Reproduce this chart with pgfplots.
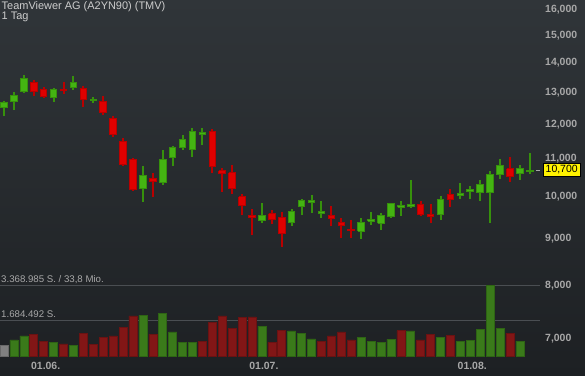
\documentclass[border=0pt]{standalone}
\usepackage{pgfplots}
\pgfplotsset{compat=1.18}
\usepackage{pgfplotstable}
\usepackage{fontspec}
\setmainfont{Liberation Sans}
\definecolor{bgtop}{RGB}{48,53,57}
\definecolor{bgbot}{RGB}{29,32,35}
\definecolor{cgreen}{RGB}{68,180,18}
\definecolor{cdgreen}{RGB}{54,145,12}
\definecolor{cred}{RGB}{224,0,0}
\definecolor{cdred}{RGB}{185,0,0}
\definecolor{vgreen}{RGB}{58,122,26}
\definecolor{vdgreen}{RGB}{46,100,20}
\definecolor{vred}{RGB}{130,22,22}
\definecolor{vdred}{RGB}{106,18,18}
\definecolor{vgray}{RGB}{128,128,128}
\definecolor{vdgray}{RGB}{105,105,105}
\definecolor{lbl}{RGB}{168,168,168}
\definecolor{ttl}{RGB}{205,205,205}
\definecolor{gline}{RGB}{74,78,82}

\pgfplotstableread{
i o h l c
0 12520 12730 12270 12690
1 12710 13020 12440 12900
2 13030 13590 13000 13455
3 13340 13420 12900 13045
4 13090 13175 12835 12860
5 12840 13145 12705 13110
6 13110 13355 12955 13055
7 13165 13555 13080 13345
8 13135 13220 12550 12785
9 12730 12850 12665 12770
10 12720 12890 12280 12360
11 12190 12260 11635 11695
12 11505 11600 10820 10845
13 10990 11040 10150 10195
14 10210 10810 9885 10560
15 10480 10620 10010 10405
16 10365 11255 10305 10975
17 11040 11370 10820 11310
18 11320 11685 11265 11540
19 11265 11895 11065 11775
20 11695 11895 11405 11765
21 11775 11865 10630 10790
22 10675 10755 10135 10615
23 10620 10835 10085 10210
24 10000 10075 9565 9795
25 9555 9705 9095 9495
26 9420 9850 9375 9535
27 9590 9680 9345 9440
28 9505 9635 8825 9120
29 9375 9705 9305 9630
30 9760 9950 9555 9900
31 9860 10050 9615 9900
32 9590 9900 9495 9630
33 9535 9775 9305 9480
34 9370 9485 9025 9315
35 9225 9440 9025 9180
36 9175 9480 9005 9370
37 9410 9625 9320 9455
38 9360 9605 9205 9555
39 9515 9860 9485 9825
40 9750 9900 9540 9785
41 9770 10435 9725 9810
42 9800 9900 9535 9565
43 9565 9825 9375 9515
44 9565 10025 9440 9940
45 10050 10210 9760 9925
46 10035 10360 9950 10095
47 10135 10280 9950 10185
48 10110 10445 9900 10305
49 10110 10675 9370 10570
50 10575 11000 10465 10810
51 10730 11060 10385 10515
52 10605 10845 10445 10735
53 10655 11170 10595 10700
}\candles

\begin{document}
\begin{tikzpicture}
\useasboundingbox (0bp,0bp) rectangle (585bp,376bp);
\shade[top color=bgtop, bottom color=bgbot] (0bp,0bp) rectangle (585bp,376bp);

% volume panel
\begin{axis}[at={(0bp,20bp)}, anchor=south west, scale only axis,
  width=540bp, height=71bp, xmin=-0.4032, xmax=54.03,
  ymin=0, ymax=3368985, hide axis, clip=false]
\addplot[draw=gline, line width=0.8bp] coordinates {(-0.4032,3368985) (54.03,3368985)};
\addplot[draw=gline, line width=0.8bp] coordinates {(-0.4032,1684492) (54.03,1684492)};
\addplot[ybar, bar width=8bp, bar shift=0pt, fill=vgray, draw=vdgray, line width=0.6bp]
  coordinates {(0,520000)};
\addplot[ybar, bar width=8bp, bar shift=0pt, fill=vgreen, draw=vdgreen, line width=0.6bp]
  coordinates {(1,760000) (2,950000) (5,650000) (7,510000) (14,1930000) (16,2040000)
  (17,1140000) (18,630000) (19,660000) (26,1420000) (29,1190000) (30,1060000)
  (31,810000) (36,890000) (37,700000) (38,650000) (39,790000) (41,1190000)
  (44,900000) (46,710000) (47,740000) (48,1270000) (49,3368985) (50,1300000) (52,710000)};
\addplot[ybar, bar width=8bp, bar shift=0pt, fill=vred, draw=vdred, line width=0.6bp]
  coordinates {(3,1030000) (4,700000) (6,570000) (8,1080000) (9,540000) (10,900000)
  (11,950000) (12,1340000) (13,1900000) (15,1040000) (20,710000) (21,1600000)
  (22,1900000) (23,1310000) (24,1820000) (25,1860000) (27,650000) (28,1220000)
  (32,710000) (33,950000) (34,1140000) (35,760000) (40,1200000) (42,760000)
  (43,1040000) (45,980000) (51,1080000)};
\node[anchor=base west, inner sep=0pt, text=lbl, font=\fontsize{9.7}{11}\selectfont]
  at (axis cs:-0.4032,3368985) [xshift=1bp, yshift=2.7bp] {3.368.985 S. / 33,8 Mio.};
\node[anchor=base west, inner sep=0pt, text=lbl, font=\fontsize{9.7}{11}\selectfont]
  at (axis cs:-0.4032,1684492) [xshift=1bp, yshift=2.7bp] {1.684.492 S.};
\end{axis}

% price panel
\begin{axis}[at={(0bp,0bp)}, anchor=south west, scale only axis,
  width=540bp, height=376bp, xmin=-0.4032, xmax=54.03,
  ymode=log, ymin=6376.6, ymax=16408,
  axis line style={draw=none}, major tick length=0pt, minor tick length=0pt,
  clip=false,
  xtick={4.2,26.2,47.2}, xticklabels={01.06.,01.07.,01.08.},
  xticklabel style={anchor=base, yshift=6bp, inner sep=0pt, text=lbl,
    font=\fontsize{10.5}{12}\selectfont\bfseries},
  ytick={7000,8000,9000,10000,11000,12000,13000,14000,15000,16000},
  yticklabels={{7,000},{8,000},{9,000},{10,000},{11,000},{12,000},{13,000},{14,000},{15,000},{16,000}},
  yticklabel pos=right,
  yticklabel style={anchor=west, inner sep=0pt, xshift=5bp, text=lbl,
    font=\fontsize{10.5}{12}\selectfont\bfseries},
]
\pgfplotstablegetrowsof{\candles}
\pgfmathtruncatemacro\lastrow{\pgfplotsretval-1}
\pgfplotsinvokeforeach{0,...,\lastrow}{
  \pgfplotstablegetelem{#1}{o}\of{\candles}\let\co\pgfplotsretval
  \pgfplotstablegetelem{#1}{h}\of{\candles}\let\ch\pgfplotsretval
  \pgfplotstablegetelem{#1}{l}\of{\candles}\let\cl\pgfplotsretval
  \pgfplotstablegetelem{#1}{c}\of{\candles}\let\cc\pgfplotsretval
  \ifdim\cc pt<\co pt \def\ccol{cred}\def\cdraw{cdred}\else\def\ccol{cgreen}\def\cdraw{cdgreen}\fi
  \pgfmathsetmacro\xl{#1-0.33}
  \pgfmathsetmacro\xr{#1+0.33}
  \edef\temp{\noexpand\addplot[draw=\cdraw, line width=2bp] coordinates {(#1,\cl) (#1,\ch)};
    \noexpand\addplot[fill=\ccol, draw=\cdraw, line width=1bp] coordinates {(\xl,\co) (\xr,\co) (\xr,\cc) (\xl,\cc) (\xl,\co)};}
  \temp
}
\addplot[draw=lbl, line width=0.8bp] coordinates {(53.65,10700) (54.0,10700)};
\node[anchor=west, fill=yellow, draw=black, line width=0.8bp, text=black,
  inner xsep=2.3bp, inner ysep=0pt, minimum height=13bp,
  font=\fontsize{10.5}{12}\selectfont]
  at (axis cs:54.03,10700) [xshift=3bp] {10,700};
\end{axis}

\node[anchor=base west, inner sep=0pt, text=ttl, font=\fontsize{11}{13}\selectfont]
  at (1.5bp,366.5bp) {TeamViewer AG (A2YN90) (TMV)};
\node[anchor=base west, inner sep=0pt, text=ttl, font=\fontsize{11}{13}\selectfont]
  at (1.5bp,356bp) {1 Tag};
\end{tikzpicture}
\end{document}
